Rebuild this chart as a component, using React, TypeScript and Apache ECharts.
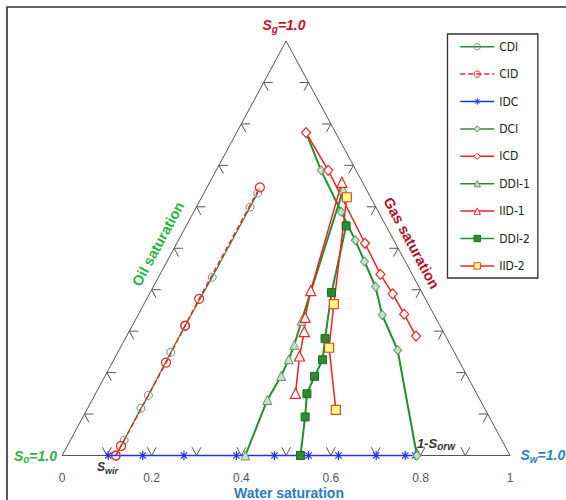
import { useEffect, useRef } from 'react';
import * as echarts from 'echarts';

const FONT = "'Liberation Sans', Arial, sans-serif";
const NARROW = "'Liberation Sans Narrow', 'Arial Narrow', 'DejaVu Sans Condensed', 'Liberation Sans', sans-serif";

const GREEN = '#22902e';
const RED = '#f22222';
const BLUE = '#2233ee';
const GRAY_EDGE = '#6c8f7c';
const LIGHT_GREEN = '#bfe5bf';

// ternary ticks (fraction along each edge)
const TICK_VALUES = [0.1, 0.2, 0.3, 0.4, 0.5, 0.6, 0.7, 0.8, 0.9];
const TICK_LEN = 0.02;

// series names (legend order)
const NAMES = ['CDI', 'CID', 'IDC', 'DCI', 'ICD', 'DDI-1', 'IID-1', 'DDI-2', 'IID-2'];

// saturation values: Sw (water) and Sg (gas); So = 1 - Sw - Sg
const CDI_SW = [0.12, 0.12, 0.119, 0.12, 0.118, 0.118, 0.12, 0.12, 0.12];
const CDI_SG = [0, 0.037, 0.114, 0.145, 0.249, 0.313, 0.43, 0.599, 0.633];

const CID_SW = [0.12, 0.12, 0.12, 0.118, 0.117, 0.118];
const CID_SG = [0, 0.023, 0.224, 0.313, 0.378, 0.647];

const IDC_SW = [0.103, 0.18, 0.272, 0.389, 0.474, 0.55, 0.617, 0.701, 0.766, 0.788];
const IDC_SG = [0, 0, 0, 0, 0, 0, 0, 0, 0, 0];

const DCI_SW = [0.155, 0.234, 0.329, 0.395, 0.441, 0.496, 0.545, 0.622, 0.792];
const DCI_SG = [0.779, 0.688, 0.588, 0.519, 0.468, 0.407, 0.339, 0.254, 0];

const ICD_SW = [0.155, 0.25, 0.42, 0.492, 0.543, 0.593, 0.646];
const ICD_SG = [0.779, 0.688, 0.512, 0.437, 0.39, 0.341, 0.288];

const DDI1_SW = [0.409, 0.391, 0.393, 0.39, 0.385, 0.372, 0.307];
const DDI1_SG = [0, 0.134, 0.192, 0.232, 0.267, 0.325, 0.641];

const IID1_SW = [0.446, 0.41, 0.391, 0.376, 0.356, 0.295];
const IID1_SG = [0.15, 0.24, 0.299, 0.333, 0.398, 0.659];

const DDI2_SW = [0.532, 0.496, 0.472, 0.468, 0.466, 0.446, 0.405, 0.357];
const DDI2_SG = [0, 0.093, 0.149, 0.191, 0.231, 0.282, 0.393, 0.554];

const IID2_SW = [0.324, 0.424, 0.466, 0.556];
const IID2_SG = [0.623, 0.365, 0.26, 0.11];

const tern = (sw: number, sg: number) => [sw + sg / 2, sg];
const toXY = (sw: number[], sg: number[]) => sw.map((w, i) => tern(w, sg[i]));

const ASTERISK = 'path://M5,0L5,10M0,5L10,5M1.46,1.46L8.54,8.54M8.54,1.46L1.46,8.54';
const CLEAR = 'rgba(255,255,255,0)';

function lineSeries(name: string, sw: number[], sg: number[], o: any) {
  return {
    name,
    type: 'line',
    data: toXY(sw, sg),
    clip: false,
    symbol: o.symbol,
    symbolSize: o.size,
    symbolKeepAspect: true,
    showAllSymbol: true,
    lineStyle: { color: o.line, width: o.width, type: o.dash ? [5, 3] : 'solid' },
    itemStyle: { color: o.fill, borderColor: o.border, borderWidth: o.bw ?? 1 },
    emphasis: { disabled: true },
  };
}

function subLabel(main: string, sub: string, rest: string, color: string, size: number, subSize: number) {
  const base = { fill: color, fontWeight: 'bold', fontStyle: 'italic', fontFamily: FONT };
  return {
    text: `{m|${main}}{s|${sub}}` + (rest ? `{m|${rest}}` : ''),
    rich: {
      m: { ...base, fontSize: size, lineHeight: size + 4 },
      s: { ...base, fontSize: subSize, lineHeight: subSize - 1, verticalAlign: 'bottom' },
    },
  };
}

export default function App() {
  const ref = useRef<HTMLDivElement>(null);
  useEffect(() => {
    const chart = echarts.init(ref.current!, undefined, { renderer: 'svg' });
    const ticks: number[][] = [];
    [0, 1, 2].forEach((e) => TICK_VALUES.forEach((v) => ticks.push([e, v])));

    const option: any = {
      animation: false,
      backgroundColor: '#fff',
      grid: { left: 62.1, top: 41, width: 448, height: 414.5, containLabel: false },
      xAxis: {
        type: 'value', min: 0, max: 1, interval: 0.2,
        axisLine: { show: false }, axisTick: { show: false }, splitLine: { show: false },
        axisLabel: { margin: 16.5, color: '#555', fontSize: 12, fontFamily: FONT },
      },
      yAxis: { type: 'value', min: 0, max: 1, show: false },
      legend: {
        orient: 'vertical', left: 447.5, top: 34,
        data: NAMES,
        selectedMode: false,
        itemWidth: 34, itemHeight: 8, itemGap: 15.4,
        padding: [6.7, 8, 6.1, 12],
        borderColor: '#333', borderWidth: 1.3, backgroundColor: '#fff',
        lineStyle: { width: 1.5 },
        itemStyle: { borderWidth: 1 },
        textStyle: { fontSize: 12, fontFamily: NARROW, color: '#222' },
      },
      series: [
        {
          type: 'line', name: 'frame', silent: true, clip: false, symbol: 'none',
          data: [tern(0, 0), tern(1, 0), tern(0, 1), tern(0, 0)],
          lineStyle: { color: '#555', width: 1 },
        },
        {
          type: 'custom', name: 'ticks', silent: true, clip: false,
          data: ticks,
          renderItem: (_p: any, api: any) => {
            const e = api.value(0);
            const v = api.value(1);
            const T = TICK_LEN;
            let pts: number[][];
            if (e === 0) pts = [tern(v - T, T), tern(v, 0), tern(v, T)];
            else if (e === 1) pts = [tern(T, v), tern(0, v), tern(T, v - T)];
            else pts = [tern(1 - v - T, v), tern(1 - v, v), tern(1 - v, v - T)];
            return {
              type: 'polyline',
              shape: { points: pts.map((p) => api.coord(p)) },
              style: { stroke: '#555', lineWidth: 1, fill: 'none' },
            };
          },
        },
        lineSeries('CDI', CDI_SW, CDI_SG, { symbol: 'circle', size: 8, line: GREEN, width: 1.2, fill: CLEAR, border: GRAY_EDGE }),
        lineSeries('CID', CID_SW, CID_SG, { symbol: 'circle', size: 9, line: RED, width: 1.5, dash: true, fill: CLEAR, border: RED, bw: 1.2 }),
        lineSeries('IDC', IDC_SW, IDC_SG, { symbol: ASTERISK, size: 9, line: BLUE, width: 1.5, fill: BLUE, border: BLUE, bw: 1.2 }),
        lineSeries('DCI', DCI_SW, DCI_SG, { symbol: 'diamond', size: [8, 9], line: GREEN, width: 2, fill: LIGHT_GREEN, border: GRAY_EDGE }),
        lineSeries('ICD', ICD_SW, ICD_SG, { symbol: 'diamond', size: [9, 10], line: RED, width: 1.5, fill: '#fff', border: RED, bw: 1.2 }),
        lineSeries('DDI-1', DDI1_SW, DDI1_SG, { symbol: 'triangle', size: 9, line: GREEN, width: 2, fill: LIGHT_GREEN, border: GRAY_EDGE }),
        lineSeries('IID-1', IID1_SW, IID1_SG, { symbol: 'triangle', size: 10, line: RED, width: 1.5, fill: '#fff', border: RED, bw: 1.2 }),
        lineSeries('DDI-2', DDI2_SW, DDI2_SG, { symbol: 'rect', size: 8, line: GREEN, width: 2, fill: '#2e8b2e', border: '#1d6b22' }),
        lineSeries('IID-2', IID2_SW, IID2_SG, { symbol: 'rect', size: 9, line: RED, width: 1.5, fill: '#ffff80', border: '#e8452a', bw: 1.2 }),
      ],
      graphic: [
        { type: 'rect', silent: true, z: 100, shape: { x: 7, y: 7, width: 700, height: 700 }, style: { fill: 'none', stroke: '#333', lineWidth: 1.6 } },
        { type: 'text', x: 284, y: 25, silent: true, style: { ...subLabel('S', 'g', '=1.0', '#c0142c', 14, 10), align: 'center', verticalAlign: 'middle' } },
        { type: 'text', x: 57, y: 455.7, silent: true, style: { ...subLabel('S', 'o', '=1.0', '#2cb14c', 14, 10), align: 'right', verticalAlign: 'middle' } },
        { type: 'text', x: 520.5, y: 455, silent: true, style: { ...subLabel('S', 'w', '=1.0', '#2f7fcc', 14, 10), align: 'left', verticalAlign: 'middle' } },
        { type: 'text', x: 97, y: 467, silent: true, style: { ...subLabel('S', 'wir', '', '#333', 12, 9), align: 'left', verticalAlign: 'middle' } },
        { type: 'text', x: 417, y: 443, silent: true, style: { ...subLabel('1-S', 'orw', '', '#333', 13, 10), align: 'left', verticalAlign: 'middle' } },
        { type: 'text', x: 158, y: 244, rotation: 1.075, silent: true, style: { text: 'Oil saturation', fill: '#2cb14c', font: `bold 14.5px ${FONT}`, align: 'center', verticalAlign: 'middle' } },
        { type: 'text', x: 411.5, y: 243, rotation: -1.075, silent: true, style: { text: 'Gas saturation', fill: '#b0122a', font: `bold 14.5px ${FONT}`, align: 'center', verticalAlign: 'middle' } },
        { type: 'text', x: 289, y: 492.7, silent: true, style: { text: 'Water saturation', fill: '#2a7bc8', font: `bold 14px ${FONT}`, align: 'center', verticalAlign: 'middle' } },
      ],
    };
    chart.setOption(option);
    return () => chart.dispose();
  }, []);
  return <div ref={ref} style={{ position: 'absolute', left: 0, top: 0, width: 566, height: 500 }} />;
}
